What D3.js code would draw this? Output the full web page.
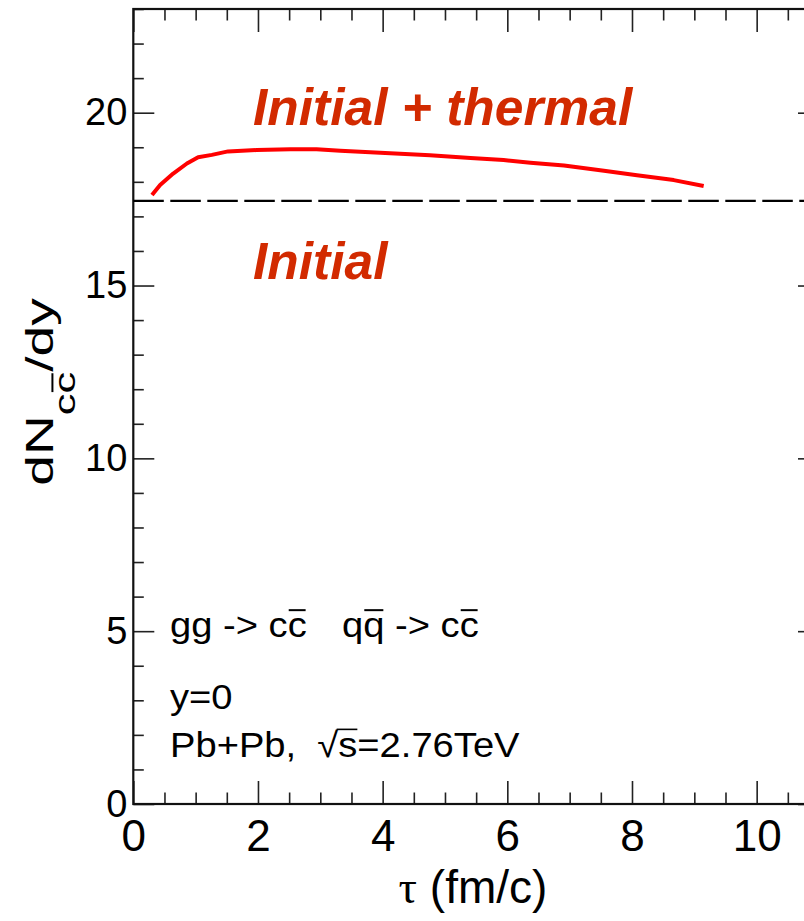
<!DOCTYPE html>
<html>
<head>
<meta charset="utf-8">
<script src="https://cdn.jsdelivr.net/npm/d3@7"></script>
<style>
  html, body { margin: 0; padding: 0; background: #fff; overflow: hidden; }
  svg { display: block; }
  text { font-family: "Liberation Sans", Arial, Helvetica, sans-serif; white-space: pre; }
</style>
</head>
<body>
<svg id="chart" width="804" height="921"></svg>
<script>
// Charm pair yield vs proper time
const tau  = [0.30, 0.43, 0.64, 0.86, 1.04, 1.26, 1.52, 1.98, 2.52, 2.94, 3.32, 3.96, 4.76, 5.41, 5.94, 6.37, 6.91, 7.55, 8.08, 8.67, 9.15];
const dndy = [17.62, 17.91, 18.24, 18.53, 18.71, 18.78, 18.88, 18.92, 18.94, 18.94, 18.90, 18.84, 18.77, 18.69, 18.63, 18.55, 18.47, 18.32, 18.19, 18.05, 17.88];
const initialLevel = 17.45;

const xDomain = [0, 11];
const yDomain = [0, 23];
const xMajor = [0, 2, 4, 6, 8, 10];
const xMinor = d3.range(0, 11.001, 0.5).filter(v => v % 2 !== 0);
const yMajor = [0, 5, 10, 15, 20];
const yMinor = d3.range(0, 23.001, 1).filter(v => v % 5 !== 0);

const plot = { left: 133.3, right: 819, top: 9, bottom: 804 };

const svg = d3.select("#chart");
const x = d3.scaleLinear().domain(xDomain).range([plot.left, plot.right]);
const y = d3.scaleLinear().domain(yDomain).range([plot.bottom, plot.top]);

const red = "#ff0000";
const labelRed = "#d22a00";

// ---- axes (ticks inward on all four sides) ----
function styleAxis(g) {
  g.select(".domain").remove();
  g.selectAll(".tick line").attr("stroke", "#222").attr("stroke-width", 1.6);
}

svg.append("g").attr("transform", `translate(0,${plot.bottom})`)
  .call(d3.axisBottom(x).tickValues(xMajor).tickSize(-23).tickPadding(16).tickFormat(d3.format("d")))
  .call(styleAxis)
  .call(g => g.selectAll("text").attr("font-size", 44).attr("fill", "#000")
                .attr("font-family", "Liberation Sans, Arial, sans-serif"));
svg.append("g").attr("transform", `translate(0,${plot.bottom})`)
  .call(d3.axisBottom(x).tickValues(xMinor).tickSize(-11.5).tickFormat(""))
  .call(styleAxis);
svg.append("g").attr("transform", `translate(0,${plot.top})`)
  .call(d3.axisTop(x).tickValues(xMajor).tickSize(-23).tickFormat(""))
  .call(styleAxis);
svg.append("g").attr("transform", `translate(0,${plot.top})`)
  .call(d3.axisTop(x).tickValues(xMinor).tickSize(-11.5).tickFormat(""))
  .call(styleAxis);

svg.append("g").attr("transform", `translate(${plot.left},0)`)
  .call(d3.axisLeft(y).tickValues(yMajor).tickSize(-21).tickPadding(6).tickFormat(d3.format("d")))
  .call(styleAxis)
  .call(g => g.selectAll("text").attr("font-size", 38).attr("fill", "#000")
                .attr("font-family", "Liberation Sans, Arial, sans-serif"));
svg.append("g").attr("transform", `translate(${plot.left},0)`)
  .call(d3.axisLeft(y).tickValues(yMinor).tickSize(-10.5).tickFormat(""))
  .call(styleAxis);
svg.append("g").attr("transform", `translate(${plot.right},0)`)
  .call(d3.axisRight(y).tickValues(yMajor).tickSize(-21).tickFormat(""))
  .call(styleAxis);
svg.append("g").attr("transform", `translate(${plot.right},0)`)
  .call(d3.axisRight(y).tickValues(yMinor).tickSize(-10.5).tickFormat(""))
  .call(styleAxis);

// frame
svg.append("rect")
  .attr("x", plot.left).attr("y", plot.top)
  .attr("width", plot.right - plot.left).attr("height", plot.bottom - plot.top)
  .attr("fill", "none").attr("stroke", "#111").attr("stroke-width", 2.2);

// ---- initial yield (dashed) ----
svg.append("line")
  .attr("x1", x(xDomain[0])).attr("x2", x(xDomain[1]))
  .attr("y1", y(initialLevel)).attr("y2", y(initialLevel))
  .attr("stroke", "#000").attr("stroke-width", 2.2)
  .attr("stroke-dasharray", "30.5,6.5");

// ---- initial + thermal curve ----
const line = d3.line().x(d => x(d[0])).y(d => y(d[1]));
svg.append("path")
  .datum(tau.map((t, i) => [t, dndy[i]]))
  .attr("d", line)
  .attr("fill", "none").attr("stroke", red).attr("stroke-width", 4)
  .attr("stroke-linejoin", "round");

// ---- curve labels ----
svg.append("text").attr("x", 253).attr("y", 125)
  .attr("font-size", 51.5).attr("font-weight", "bold").attr("font-style", "italic")
  .attr("fill", labelRed).text("Initial + thermal");
svg.append("text").attr("x", 253).attr("y", 279)
  .attr("font-size", 51.5).attr("font-weight", "bold").attr("font-style", "italic")
  .attr("fill", labelRed).text("Initial");

// helper: bar over given characters of a text element
function overline(textSel, idxs, parent, rise, sw) {
  const node = textSel.node();
  idxs.forEach(i => {
    const e = node.getExtentOfChar(i);
    const top = e.y + e.height * rise;
    parent.append("line")
      .attr("x1", e.x + 1).attr("x2", e.x + e.width - 1)
      .attr("y1", top).attr("y2", top)
      .attr("stroke", "#000").attr("stroke-width", sw);
  });
}

// ---- process / system annotations ----
const annSize = 35;
function annGroup(px, py) {
  return svg.append("g").attr("transform", `translate(${px},${py}) scale(1.09,1)`);
}
const g1 = annGroup(170, 637);
const t1 = g1.append("text").attr("font-size", annSize).text("gg -> cc");
overline(t1, [7], g1, 0.12, 2);
const g2 = annGroup(342, 637);
const t2 = g2.append("text").attr("font-size", annSize).text("qq -> cc");
overline(t2, [1, 7], g2, 0.12, 2);
annGroup(170, 709).append("text").attr("font-size", annSize).text("y=0");
const g3 = annGroup(170, 757);
const t3 = g3.append("text").attr("font-size", annSize).text("Pb+Pb,  \u221As=2.76TeV");
{
  const n = t3.node();
  const r = n.getExtentOfChar(8);   // radical
  const s = n.getExtentOfChar(9);   // s
  const top = r.y + r.height * 0.1;
  g3.append("line")
    .attr("x1", r.x + r.width - 1.5).attr("x2", s.x + s.width)
    .attr("y1", top).attr("y2", top)
    .attr("stroke", "#000").attr("stroke-width", 1.6);
}

// ---- axis titles ----
svg.append("text")
  .attr("x", 473).attr("y", 903).attr("text-anchor", "middle").attr("font-size", 46)
  .call(t => {
    t.append("tspan").attr("font-family", "Liberation Serif, serif").text("\u03C4");
    t.append("tspan").text(" (fm/c)");
  });

const yt = svg.append("g").attr("transform", "translate(53,392) rotate(-90) scale(1.45,1)");
const ytText = yt.append("text").attr("text-anchor", "middle").attr("font-size", 38);
ytText.append("tspan").text("dN");
ytText.append("tspan").attr("font-size", 30).attr("dy", 22).text("cc");
ytText.append("tspan").attr("dy", -22).text("/dy");
overline(ytText, [3], yt, 0.14, 2);
</script>
</body>
</html>
